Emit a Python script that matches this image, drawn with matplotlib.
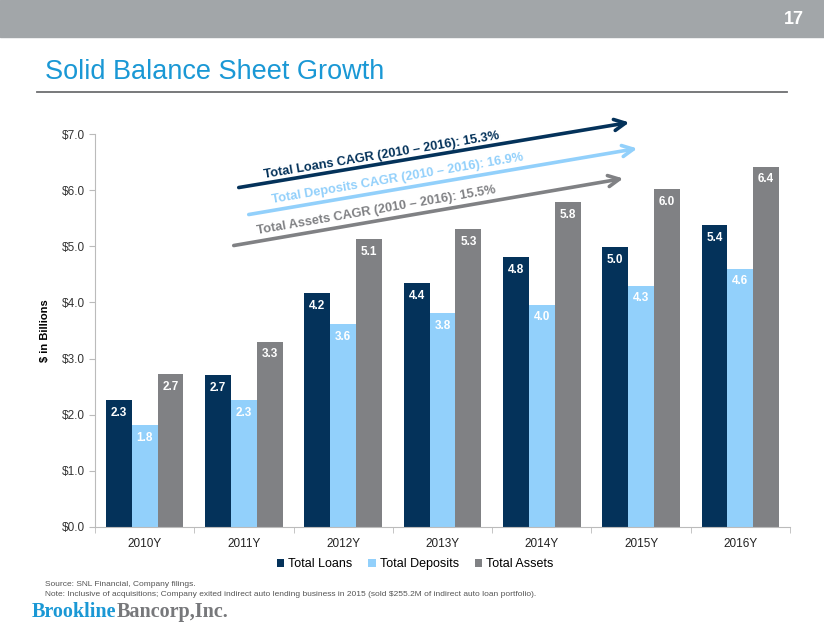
import numpy as np
import matplotlib
matplotlib.use("Agg")
import matplotlib.pyplot as plt
from matplotlib.patches import Rectangle, FancyArrowPatch

# data
years = ["2010Y", "2011Y", "2012Y", "2013Y", "2014Y", "2015Y", "2016Y"]
loans = [2.26, 2.71, 4.17, 4.35, 4.81, 4.99, 5.38]
deposits = [1.81, 2.26, 3.62, 3.81, 3.96, 4.30, 4.60]
assets = [2.72, 3.30, 5.13, 5.31, 5.79, 6.02, 6.42]
loan_labels = ["2.3", "2.7", "4.2", "4.4", "4.8", "5.0", "5.4"]
dep_labels = ["1.8", "2.3", "3.6", "3.8", "4.0", "4.3", "4.6"]
asset_labels = ["2.7", "3.3", "5.1", "5.3", "5.8", "6.0", "6.4"]
series_names = ["Total Loans", "Total Deposits", "Total Assets"]
cagr_text = ["Total Loans CAGR (2010 \u2013 2016): 15.3%",
             "Total Deposits CAGR (2010 \u2013 2016): 16.9%",
             "Total Assets CAGR (2010 \u2013 2016): 15.5%"]

c_loans = "#04325a"
c_dep = "#92d0fb"
c_assets = "#808184"
colors = [c_loans, c_dep, c_assets]

plt.rcParams['font.family'] = ['Liberation Sans', 'DejaVu Sans']

fig = plt.figure(figsize=(8.24, 6.37), dpi=100)
W, H = 824, 637

def fx(px):
    return px / W

def fy(py):
    return 1 - py / H

# header band
fig.patches.append(Rectangle((0, fy(37)), 1, 37 / H, transform=fig.transFigure,
                             color="#a2a6a9", zorder=0))
fig.text(fx(804), fy(20), "17", color="white", fontsize=13, fontweight="bold",
         ha="right", va="center")
fig.text(fx(45), fy(72), "Solid Balance Sheet Growth", color="#1a98d5",
         fontsize=19.5, ha="left", va="center")
fig.add_artist(plt.Line2D([fx(37), fx(787)], [fy(92), fy(92)],
                          transform=fig.transFigure, color="#6d6e71", lw=1.3))

ax = fig.add_axes([fx(95), fy(527), fx(790) - fx(95), fy(134) - fy(527)])
x = np.arange(len(years))
bw = 0.26
all_vals = [loans, deposits, assets]
all_labels = [loan_labels, dep_labels, asset_labels]
for i, (vals, labs) in enumerate(zip(all_vals, all_labels)):
    xs = x + (i - 1) * bw
    ax.bar(xs, vals, bw, color=colors[i], label=series_names[i], zorder=2)
    for xi, v, lab in zip(xs, vals, labs):
        ax.text(xi, v - 0.12, lab, color="white", fontsize=8.5, fontweight="bold",
                ha="center", va="top", zorder=3)

ax.set_xlim(-0.5, len(years) - 0.5)
ax.set_ylim(0, 7)
ax.set_yticks(np.arange(0, 8, 1))
ax.set_yticklabels(["$%.1f" % v for v in np.arange(0, 8, 1)], fontsize=8.5, color="#333333")
ax.set_xticks(x)
ax.set_xticklabels(years, fontsize=8.5, color="#222222")
ax.set_xticks(np.arange(-0.5, len(years), 1), minor=True)
ax.tick_params(axis="x", which="major", length=0, pad=8)
ax.tick_params(axis="x", which="minor", length=4, color="#bbbbbb")
ax.tick_params(axis="y", length=4, color="#bbbbbb")
for s in ["top", "right"]:
    ax.spines[s].set_visible(False)
for s in ["left", "bottom"]:
    ax.spines[s].set_color("#bbbbbb")
ax.set_ylabel("$ in Billions", fontsize=8, fontweight="bold", labelpad=8)

handles, labels = ax.get_legend_handles_labels()
fig.legend(handles, labels, loc="center", bbox_to_anchor=(fx(415), fy(564)), ncol=3,
           frameon=False, fontsize=9, handlelength=0.6, handleheight=0.6,
           handletextpad=0.3, columnspacing=1.3, borderpad=0)

# CAGR arrows (figure pixel coordinates)
arrows = [((236, 188), (632, 122)), ((246, 215), (640, 148)), ((231, 246), (626, 178))]
text_pos = [(382, 155), (398, 179), (376, 211)]
for (p0, p1), tp, col, txt in zip(arrows, text_pos, colors, cagr_text):
    fig.add_artist(FancyArrowPatch(
        (fx(p0[0]), fy(p0[1])), (fx(p1[0]), fy(p1[1])), transform=fig.transFigure,
        arrowstyle="->,head_length=8,head_width=4", color=col, lw=2.6,
        mutation_scale=1))
    ang = np.degrees(np.arctan2(p0[1] - p1[1], p1[0] - p0[0]))
    fig.text(fx(tp[0]), fy(tp[1]), txt, color=col, fontsize=9.2, fontweight="bold",
             rotation=ang, rotation_mode="anchor", ha="center", va="center")

# footnotes
fig.text(fx(45), fy(585), "Source: SNL Financial, Company filings.", fontsize=6,
         color="#555555", ha="left", va="center")
fig.text(fx(45), fy(595), "Note: Inclusive of acquisitions; Company exited indirect auto lending "
         "business in 2015 (sold $255.2M of indirect auto loan portfolio).", fontsize=6,
         color="#555555", ha="left", va="center")

# logo
t1 = fig.text(fx(32), fy(612), "Brookline", fontsize=14.5, fontweight="bold",
              family="Liberation Serif", color="#1a98d5", ha="left", va="center")
fig.canvas.draw()
bb = t1.get_window_extent()
fig.text(bb.x1 / W, fy(612), "Bancorp,Inc.", fontsize=14.5, fontweight="bold",
         family="Liberation Serif", color="#77787b", ha="left", va="center")

fig.savefig("out.png", dpi=100)
